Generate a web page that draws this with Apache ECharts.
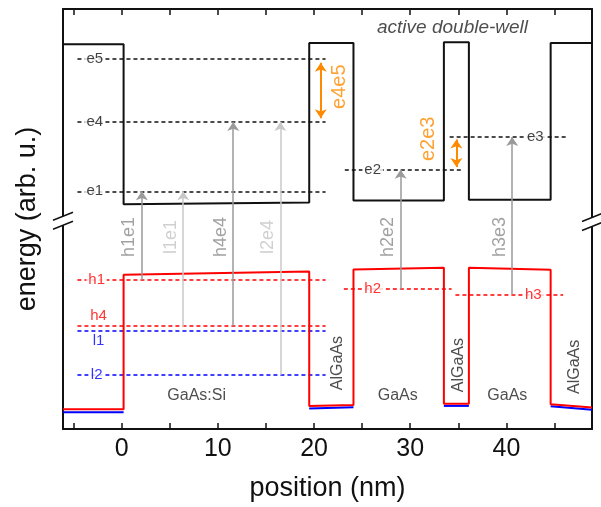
<!DOCTYPE html>
<html>
<head>
<meta charset="utf-8">
<script src="https://cdn.jsdelivr.net/npm/echarts@6/dist/echarts.min.js"></script>
<style>
  html, body { margin: 0; padding: 0; background: #fff; }
  #chart { width: 601px; height: 507px; }
</style>
</head>
<body>
<div id="chart"></div>
<script>
const FONT = '"Liberation Sans", Arial, sans-serif';
const INK = '#111';
const RED = '#ff0000';
const BLUE = '#0000ff';
const ORANGE = '#ff8a00';

const xMin = -6.1, xMax = 48.9;
const xTicks = [-5, 0, 5, 10, 15, 20, 25, 30, 35, 40, 45];
const xLabels = [0, 10, 20, 30, 40];

// band profiles: [position (nm), energy (arb. u.)]
const conductionBand = [[-6.1, 91.6], [0.2, 91.6], [0.2, 53.5], [19.5, 53.9], [19.5, 91.9], [24.1, 91.9],
  [24.1, 54.4], [33.5, 54.4], [33.5, 92.1], [36.1, 92.1], [36.1, 54.6], [44.6, 54.6], [44.6, 91.9], [48.9, 91.9]];
const heavyHoleBand = [[-6.1, 4.7], [0.2, 4.7], [0.2, 36.7], [19.5, 37.5], [19.5, 5.5], [24.1, 5.7],
  [24.1, 38.0], [33.5, 38.4], [33.5, 6.0], [36.1, 6.0], [36.1, 38.4], [44.6, 37.9], [44.6, 5.9], [48.9, 5.1]];
// light-hole band only shows where it splits off below the heavy-hole band (barriers)
const lightHoleBarriers = [
  [[-6.1, 4.0], [0.2, 4.0]],
  [[19.5, 4.9], [24.1, 5.2]],
  [[33.5, 5.5], [36.1, 5.5]],
  [[44.6, 5.4], [48.9, 4.6]]
];

// [name, energy, from, to, label x (null = label beside line)]
const electronLevels = [
  ['e5', 88.2, -4.6, 21.2, -2.8],
  ['e4', 73.1, -4.6, 21.2, -2.8],
  ['e1', 56.6, -4.6, 21.2, -2.8],
  ['e2', 61.7, 23.2, 35.4, 26.1],
  ['e3', 69.5, 34.1, 46.2, 43.0]
];
const heavyHoleLevels = [
  ['h1', 35.5, -4.6, 21.2, -2.6],
  ['h4', 24.6, -4.6, 21.2, null],
  ['h2', 33.3, 23.1, 34.3, 26.1],
  ['h3', 32.0, 34.7, 45.9, 42.8]
];
const lightHoleLevels = [
  ['l1', 23.4, -4.6, 21.2, null],
  ['l2', 12.9, -4.6, 21.2, -2.6]
];
const sideLabels = [['h4', -2.4, 27.0, RED], ['l1', -2.4, 20.9, BLUE]];

// [name, x, from, to, strong]
const transitions = [
  ['h1e1', 2.1, 35.5, 56.6, true],
  ['l1e1', 6.4, 24.2, 56.6, false],
  ['h4e4', 11.6, 24.6, 73.1, true],
  ['l2e4', 16.5, 12.9, 73.1, false],
  ['h2e2', 29.0, 33.3, 61.7, true],
  ['h3e3', 40.6, 32.0, 69.5, true]
];
const transitionLabelY = 45.7;

// [name, x, from, to, label x, label y]
const splittings = [
  ['e4e5', 20.7, 74.0, 87.2, 22.6, 81.5],
  ['e2e3', 34.8, 62.4, 68.9, 31.9, 69.1]
];

// [text, x, y, rotate]
const regionLabels = [
  ['GaAs:Si', 7.8, 8.0, 0],
  ['AlGaAs', 22.4, 15.7, 90],
  ['GaAs', 28.7, 8.0, 0],
  ['AlGaAs', 35.0, 15.2, 90],
  ['GaAs', 40.1, 8.0, 0],
  ['AlGaAs', 47.1, 14.8, 90]
];
const titleLabel = ['active double-well', 34.4, 95.5];
const breakMarks = [[xMin, 49.6], [xMax, 49.3]];

const chart = echarts.init(document.getElementById('chart'));

const levelLines = (levels, color) => ({
  type: 'lines', coordinateSystem: 'cartesian2d', z: 2, silent: true,
  lineStyle: { color, width: 1.5, type: [4, 3], opacity: 1, curveness: 0 },
  data: levels.map(l => ({ coords: [[l[2], l[1]], [l[3], l[1]]] }))
});

const levelTags = (levels, color) => ({
  type: 'scatter', symbolSize: 0, z: 6, silent: true,
  data: levels.filter(l => l[4] !== null).map(l => ({ name: l[0], value: [l[4], l[1]] })),
  label: {
    show: true, position: 'inside', formatter: '{b}', color, fontSize: 15, fontFamily: FONT,
    backgroundColor: '#fff', padding: [0, 2]
  }
});

const bandLine = (data, color, z) => ({
  type: 'line', data, showSymbol: false, silent: true, z,
  lineStyle: { color, width: 2 }
});

const frameLine = { onZero: false, lineStyle: { color: INK, width: 2 } };

const option = {
  animation: false,
  backgroundColor: '#fff',
  grid: { left: 63, right: 9, top: 9, bottom: 72 },
  xAxis: [
    {
      type: 'value', min: xMin, max: xMax, position: 'bottom',
      name: 'position (nm)', nameLocation: 'middle', nameGap: 46,
      nameTextStyle: { fontSize: 27, color: INK, fontFamily: FONT },
      axisLine: frameLine,
      axisTick: { inside: true, length: 6, customValues: xTicks, lineStyle: { color: INK, width: 1.5 } },
      axisLabel: { customValues: xLabels, fontSize: 25, color: INK, fontFamily: FONT, margin: 8 },
      splitLine: { show: false }
    },
    {
      type: 'value', min: xMin, max: xMax, position: 'top',
      axisLine: frameLine,
      axisTick: { inside: true, length: 6, customValues: xTicks, lineStyle: { color: INK, width: 1.5 } },
      axisLabel: { show: false },
      splitLine: { show: false }
    }
  ],
  yAxis: [
    {
      type: 'value', min: 0, max: 100, position: 'left',
      name: 'energy (arb. u.)', nameLocation: 'middle', nameGap: 22,
      nameTextStyle: { fontSize: 27, color: INK, fontFamily: FONT },
      axisLine: frameLine,
      axisTick: { show: false }, axisLabel: { show: false }, splitLine: { show: false }
    },
    {
      type: 'value', min: 0, max: 100, position: 'right',
      axisLine: frameLine,
      axisTick: { show: false }, axisLabel: { show: false }, splitLine: { show: false }
    }
  ],
  series: [
    levelLines(electronLevels, INK),
    levelLines(heavyHoleLevels, RED),
    levelLines(lightHoleLevels, BLUE),
    {
      type: 'lines', coordinateSystem: 'cartesian2d', polyline: true, z: 3, silent: true,
      data: lightHoleBarriers.map(coords => ({ coords })),
      lineStyle: { color: BLUE, width: 2, opacity: 1 }
    },
    bandLine(heavyHoleBand, RED, 4),
    bandLine(conductionBand, INK, 4),
    {
      type: 'lines', coordinateSystem: 'cartesian2d', z: 5, silent: true,
      symbol: ['none', 'arrow'], symbolSize: 9,
      data: transitions.map(t => ({
        coords: [[t[1], t[2]], [t[1], t[3]]],
        lineStyle: { color: t[4] ? '#9a9a9a' : '#c8c8c8' }
      })),
      lineStyle: { width: 1.5, opacity: 1, curveness: 0 }
    },
    {
      type: 'lines', coordinateSystem: 'cartesian2d', z: 5, silent: true,
      symbol: ['arrow', 'arrow'], symbolSize: 9,
      data: splittings.map(s => ({ coords: [[s[1], s[2]], [s[1], s[3]]] })),
      lineStyle: { color: ORANGE, width: 2, opacity: 1, curveness: 0 }
    },
    levelTags(electronLevels, INK),
    levelTags(heavyHoleLevels, RED),
    levelTags(lightHoleLevels, BLUE),
    {
      type: 'scatter', symbolSize: 0, z: 6, silent: true,
      data: sideLabels.map(s => ({ name: s[0], value: [s[1], s[2]], label: { color: s[3] } })),
      label: { show: true, position: 'inside', formatter: '{b}', fontSize: 15, fontFamily: FONT }
    },
    {
      type: 'scatter', symbolSize: 0, z: 6, silent: true,
      data: transitions.map(t => ({
        name: t[0], value: [t[1] - 1.3, transitionLabelY],
        label: { color: t[4] ? '#8a8a8a' : '#c4c4c4' }
      })),
      label: { show: true, position: 'inside', rotate: 90, formatter: '{b}', fontSize: 18, fontFamily: FONT }
    },
    {
      type: 'scatter', symbolSize: 0, z: 6, silent: true,
      data: splittings.map(s => ({ name: s[0], value: [s[4], s[5]] })),
      label: { show: true, position: 'inside', rotate: 90, formatter: '{b}', fontSize: 20, color: ORANGE, fontFamily: FONT }
    },
    {
      type: 'scatter', symbolSize: 0, z: 6, silent: true,
      data: regionLabels.map(r => ({ name: r[0], value: [r[1], r[2]], label: { rotate: r[3] } })),
      label: { show: true, position: 'inside', formatter: '{b}', fontSize: 16, color: '#222', fontFamily: FONT }
    },
    {
      type: 'scatter', symbolSize: 0, z: 6, silent: true,
      data: [{ name: titleLabel[0], value: [titleLabel[1], titleLabel[2]] }],
      label: { show: true, position: 'inside', formatter: '{b}', fontSize: 19, fontStyle: 'italic', color: '#222', fontFamily: FONT }
    }
  ]
};

chart.setOption(option);

// axis break marks "//" on the left and right frame
const breakGraphics = [];
breakMarks.forEach(([x, y]) => {
  const [cx, cy] = chart.convertToPixel({ xAxisIndex: 0, yAxisIndex: 0 }, [x, y]);
  breakGraphics.push({ type: 'rect', shape: { x: cx - 3, y: cy - 4.5, width: 6, height: 9 }, style: { fill: '#fff' }, z: 100 });
  [-4.5, 4.5].forEach(d => breakGraphics.push({
    type: 'line', shape: { x1: cx - 10, y1: cy + d + 4, x2: cx + 10, y2: cy + d - 4 },
    style: { stroke: INK, lineWidth: 1.5 }, z: 101
  }));
});
chart.setOption({ graphic: breakGraphics });
</script>
</body>
</html>
